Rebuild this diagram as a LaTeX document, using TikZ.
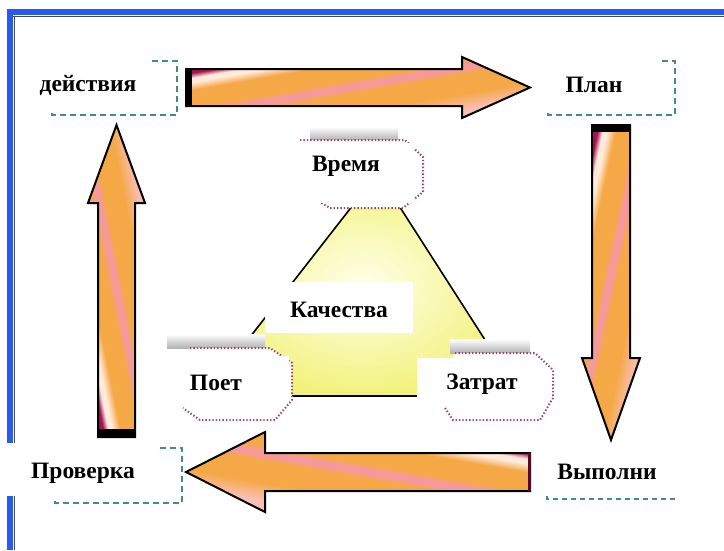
\documentclass[tikz,border=0pt]{standalone}
\usepackage{fontspec}
\setmainfont{Liberation Serif}
\definecolor{tailc}{RGB}{165,20,80}
\definecolor{arrOr}{RGB}{245,168,70}
\definecolor{arrPink}{RGB}{245,150,175}
\definecolor{arrPale}{RGB}{255,235,220}
\definecolor{arrTip}{RGB}{250,190,180}
\definecolor{frameblue}{RGB}{40,90,240}
\definecolor{dashteal}{RGB}{70,140,120}
\definecolor{dotred}{RGB}{160,70,100}
\definecolor{triOut}{RGB}{242,242,125}
\definecolor{triIn}{RGB}{255,255,232}
\pgfdeclarehorizontalshading{arrowshade}{100bp}{color(0bp)=(tailc); color(28.5bp)=(tailc); color(31bp)=(arrPale); color(33bp)=(arrPale); color(37bp)=(arrOr); color(45.5bp)=(arrOr); color(49bp)=(arrPink); color(52.5bp)=(arrOr); color(62bp)=(arrOr); color(70bp)=(arrTip); color(100bp)=(arrTip)}
\tikzset{
  arrowline/.style={draw=black, line width=2pt, line join=miter},
  tailbar/.style={draw=black, line width=6pt},
  dashbox/.style={draw=dashteal, line width=1.8pt, dash pattern=on 6pt off 4pt},
  dotbox/.style={draw=dotred, line width=2pt, dash pattern=on 1.4pt off 2pt},
  lbl/.style={font=\bfseries\fontsize{23.5}{26}\selectfont, inner sep=0pt, text=black},
  shadowstrip/.style={top color=white, bottom color=black!30, draw=none}
}
\begin{document}
\begin{tikzpicture}[x=1pt,y=-1pt]
\useasboundingbox (0,0) rectangle (724,550);
\fill[white] (0,0) rectangle (724,550);
% frame
\fill[frameblue] (7,9) rectangle (724,15);
\draw[black!70, line width=1pt] (13,16) -- (724,16);
\fill[frameblue] (7,9) rectangle (13,443);
\fill[frameblue] (7,496) rectangle (13,550);
\draw[black!70, line width=1pt] (14,16) -- (14,443);
\draw[black!70, line width=1pt] (14,496) -- (14,550);

% triangle
\shade[inner color=triIn, outer color=triOut] (378,173) -- (204,396) -- (521,396) -- cycle;
\draw[black, line width=1.6pt, line join=round] (378,173) -- (204,396) -- (521,396) -- cycle;

% octagon boxes
\shade[shadowstrip] (310,127) rectangle (398,140);
\fill[white] (300,140) -- (405,140) -- (423,157) -- (423,192) -- (403,208) -- (330,208) -- (300,190) -- cycle;
\draw[dotbox] (300,140) -- (405,140) -- (423,157) -- (423,192) -- (403,208) -- (330,208) -- (300,190);
\fill[white] (292,143) rectangle (414,203);
\shade[shadowstrip] (167,334) rectangle (265,348);
\fill[white] (190,348) -- (270,348) -- (292,363) -- (292,400) -- (275,420) -- (200,420) -- (183,408) -- cycle;
\draw[dotbox] (190,348) -- (270,348) -- (292,363) -- (292,400) -- (275,420) -- (200,420) -- (183,408);
\fill[white] (160,356) rectangle (289,403);
\shade[shadowstrip] (450,339) rectangle (530,353);
\fill[white] (455,353) -- (535,353) -- (553,370) -- (553,398) -- (540,420) -- (453,420) -- (445,408) -- cycle;
\draw[dotbox] (455,353) -- (535,353) -- (553,370) -- (553,398) -- (540,420) -- (453,420) -- (445,408);
\fill[white] (417,358) rectangle (530,403);
\fill[white] (265,282) rectangle (413,333);

% dashed label boxes
\draw[dashbox] (152,61) -- (177,61) -- (177,115) -- (52,115) -- (52,110);
\draw[dashbox] (662,61) -- (675,61) -- (675,115) -- (548,115) -- (548,110);
\draw[dashbox] (160,448) -- (182,448) -- (182,503) -- (55,503) -- (55,498);
\draw[dashbox, line width=1.4pt, dash pattern=on 5pt off 4pt] (547,496) -- (547,499) -- (675,499) -- (675,496);

% top arrow
\begin{scope}
\clip (186,69) -- (462,69) -- (462,57) -- (530,87.5) -- (462,118) -- (462,106) -- (186,106) -- cycle;
\begin{scope}[transform canvas={shift={(358,87.5)}, xslant=5.7}]
\shade[shading=arrowshade] (-290,-35) rectangle (290,35);
\end{scope}
\end{scope}
\draw[arrowline] (186,69) -- (462,69) -- (462,57) -- (530,87.5) -- (462,118) -- (462,106) -- (186,106) -- cycle;
\draw[tailbar] (189,69) -- (189,106);

% right arrow
\begin{scope}
\clip (592,125) -- (630,125) -- (630,358) -- (640,358) -- (611,440) -- (582,358) -- (592,358) -- cycle;
\begin{scope}[transform canvas={shift={(611,282.5)}, rotate=-90, xslant=-4.7}]
\shade[shading=arrowshade] (-250,-35) rectangle (250,35);
\end{scope}
\end{scope}
\draw[arrowline] (592,125) -- (630,125) -- (630,358) -- (640,358) -- (611,440) -- (582,358) -- (592,358) -- cycle;
\draw[tailbar, line width=7pt] (592,128.5) -- (630,128.5);

% bottom arrow
\begin{scope}
\clip (530,453) -- (265,453) -- (265,432) -- (186,472) -- (265,512) -- (265,491) -- (530,491) -- cycle;
\begin{scope}[transform canvas={shift={(358,472)}, rotate=180, xslant=-5.7}]
\shade[shading=arrowshade] (-320,-45) rectangle (320,45);
\end{scope}
\end{scope}
\draw[arrowline] (530,453) -- (265,453) -- (265,432) -- (186,472) -- (265,512) -- (265,491) -- (530,491) -- cycle;
\draw[tailc!50!black, line width=3pt] (529,453) -- (529,491);

% left arrow
\begin{scope}
\clip (98,437) -- (98,203) -- (88,203) -- (116.5,125) -- (145,203) -- (135,203) -- (135,437) -- cycle;
\begin{scope}[transform canvas={shift={(116.5,281)}, rotate=90, xslant=5}]
\shade[shading=arrowshade] (-250,-35) rectangle (250,35);
\end{scope}
\end{scope}
\draw[arrowline] (98,437) -- (98,203) -- (88,203) -- (116.5,125) -- (145,203) -- (135,203) -- (135,437) -- cycle;
\draw[tailbar, line width=8pt] (98,433) -- (135,433);

% labels
\node[lbl] (deist) at (88,85) {действия};
\node[lbl] (plan) at (594,85) {План};
\node[lbl] (vyp) at (607,472) {Выполни};
\node[lbl] (prov) at (83,473) {Проверка};
\node[lbl] (vrem) at (346,166) {Время};
\node[lbl] (kach) at (339,310) {Качества};
\node[lbl] (poet) at (216,383) {Поет};
\node[lbl] (zatr) at (482,384) {Затрат};
\end{tikzpicture}
\end{document}
